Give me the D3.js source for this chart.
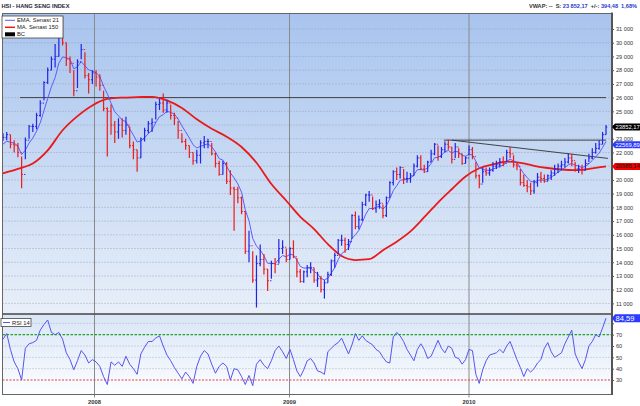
<!DOCTYPE html>
<html><head><meta charset="utf-8">
<script src="https://cdn.jsdelivr.net/npm/d3@7"></script>
<style>body{margin:0;background:#fff}svg{display:block;font-family:"Liberation Sans",Arial,sans-serif}</style>
</head><body><svg id="c" width="640" height="406"></svg>
<script>
// ---------- DATA (weekly bars) ----------
const firstWeek = [2007, 6, 13];   // Friday 13 Jul 2007
const lastWeek  = [2010, 9, 8];    // Friday 8 Oct 2010
const firstOpen = 22900;
const closes = [
23100,23300,22600,22500,22000,20400,22900,23900,23900,24700,25600,27100,28000,28800,29000,31000,30000,28800,28500,26500,28600,29500,27600,27300,27800,
27500,26900,25200,25000,24000,23500,24000,23600,24000,22500,22200,21600,23000,23600,24100,24200,25500,25600,25100,25600,24700,24500,23600,22800,22500,22000,21400,21800,22700,22800,22800,21900,21200,20400,21200,19900,19400,19300,18700,17700,14800,15200,12700,13900,14200,13500,12650,13900,13850,15000,15100,14200,
15000,14400,13300,12600,13300,13600,13600,12700,12800,12000,12500,13100,14100,14500,15600,15600,15300,15500,17400,16600,17100,18200,18900,18900,17900,18200,18300,17400,18700,19800,20600,20400,20900,20100,20100,20300,21000,21600,20800,20600,21300,21900,22600,21700,22200,22600,22400,21500,22400,21900,21200,21600,
22200,21700,20300,19700,20600,20500,20700,21000,21100,21300,21200,22000,21900,21100,21000,19800,19600,19500,19200,19800,20200,20100,19900,20300,20500,20800,21000,21100,21300,21600,21400,20800,20800,20700,21200,21600,22000,22300,22600,23300,23852.17];
const highs = [
23400,23500,23300,22900,22700,21700,23100,24000,24100,24900,25800,27200,28200,29000,29900,31100,31900,30000,29000,28000,28800,29900,29300,27800,28000,
28000,27700,26500,25300,25500,24300,24500,24500,24600,23900,22800,22200,23100,23800,24300,24500,25700,25900,26300,25800,25500,24900,24300,23400,23000,22500,22000,22200,22900,23200,23000,22700,22000,21400,21400,21300,20700,19500,19500,18800,17700,16300,14800,14500,15300,14600,13500,14100,14300,15700,15600,15000,
15100,15600,14300,13500,13400,13800,14000,13600,13300,13000,12700,13300,14200,14700,15700,16000,15800,15700,17500,17700,17400,18400,19000,19200,18800,18500,18600,18200,18800,19900,20700,20900,21000,20800,20600,20500,21200,21800,21800,21100,21400,22200,22700,22500,22400,22800,22950,22400,22700,22300,21900,21700,
22500,22400,21300,20400,20900,20900,20900,21300,21400,21600,21700,22200,22400,21800,21300,20800,20400,20000,19800,20000,20500,20600,20400,20400,20700,21100,21200,21400,21600,21950,21900,21300,21100,21100,21500,21900,22300,22700,22900,23500,24000];
const lows = [
22850,22900,22300,22000,21650,19400,21500,23000,23500,23700,24600,25800,27000,28000,28200,29000,29800,28300,27800,26100,26700,28800,27400,26300,27000,
26800,26500,25000,21700,23300,22700,23000,23100,23300,22300,21500,20600,21600,22800,23400,23500,24400,25100,24900,24900,24400,24000,23000,22700,22200,21600,21100,21200,21200,22300,22300,21800,20900,20300,20400,19700,18900,16300,18300,17500,14600,14000,12500,10700,13700,13100,11900,12800,13200,13900,14600,14000,
14200,14300,12900,12500,12500,12900,13200,12500,12200,11800,11350,12500,13000,13600,14600,15200,14700,14900,15700,16400,16400,17000,18100,18400,17800,17600,17900,17200,17300,18700,19600,20000,20100,19700,19800,19800,20300,20900,20700,20500,20600,21300,21800,21400,21600,22000,22200,21200,21600,21600,21100,21200,
21800,21500,20100,19400,19800,20300,20300,20600,20800,20900,21000,21300,21600,20900,20700,19600,19500,19100,18900,19000,19500,19800,19800,19900,20000,20300,20500,20700,20900,21200,21000,20600,20500,20400,20700,21300,21500,21900,22200,22600,23300];
const rsi = [
66,71,57,46,40,30,58,62,63,65,74,79,83,72,70,72,66,54,48,39,47,56,52,45,48,
46,42,33,26,46,43,46,42,51,44,40,35,53,59,64,64,67,69,60,52,47,41,36,31,37,33,27,42,51,56,53,44,36,42,45,42,30,40,39,33,26,34,25,44,48,43,40,47,56,60,55,49,
57,48,38,33,39,47,49,45,38,37,35,55,58,61,63,67,60,53,61,71,65,69,65,63,61,57,55,50,46,45,68,72,69,64,57,52,47,57,62,57,49,51,58,65,58,54,60,58,50,49,44,48,
57,56,35,27,39,47,52,53,54,57,54,60,64,56,48,41,33,40,37,40,45,48,58,63,55,50,52,54,62,68,74,53,46,40,48,60,64,70,68,76,84.59];
// MA 150 read at every 4th week
const maWeekIndex = [0,4,8,12,16,20,24,28,32,36,40,44,48,52,56,60,64,68,72,76,80,84,88,92,96,100,104,108,112,116,120,124,128,132,136,140,144,148,152,156,160,164,168,169];
const maValues = [20480,20800,21190,22150,23620,24650,25430,25900,26000,26030,26060,25800,25250,24420,23730,23150,22400,21250,19700,18480,17310,16420,15320,14450,14160,14220,14880,15500,16250,17280,18350,19320,20250,20850,21130,21330,21250,21030,20870,20760,20720,20800,20950,20985.14];
const emaSeed = 22400;      // EMA value at the left edge
const emaWeeklyAlpha = 0.3; // weekly equivalent of a 21-day EMA
const lastClose = 23852.17, lastEma = 22569.89, lastMa = 20985.14, lastRsi = 84.59;
const priceTicks = [11000,12000,13000,14000,15000,16000,17000,18000,19000,20000,21000,22000,23000,24000,25000,26000,27000,28000,29000,30000,31000];
const rsiTicks = [30,40,50,60,70,80];
const rsiGrid = [40,50,60,80];
const yearTicks = ["2008-01-01","2009-01-01","2010-01-01"];
const yearLabels = ["2008","2009","2010"];
const trendLines = [
  {from:"2007-08-14", to:"2010-10-08", v1:26000, v2:26000},
  {from:"2009-11-11", to:"2010-10-08", v1:22900, v2:22900},
  {from:"2009-11-27", to:"2010-10-12", v1:22900, v2:21570}
];

// ---------- LAYOUT ----------
const L = 2.5, R = 612, T = 13.5, M = 314, B = 394.5;
const svg = d3.select("#c");
const parse = d3.timeParse("%Y-%m-%d");
const dates = d3.timeFriday.range(new Date(...firstWeek), d3.timeDay.offset(new Date(...lastWeek), 1));

const x = d3.scaleTime()
  .domain([new Date(...firstWeek), parse("2008-01-01"), parse("2009-01-01"), parse("2010-01-01"), new Date(...lastWeek)])
  .range([3, 94.5, 289.5, 469, 606]);
const yP = d3.scaleLinear().domain([11000, 31000]).range([303.4, 29]);
const yR = d3.scaleLinear().domain([30, 70]).range([380, 334.7]);

const defs = svg.append("defs");
function grad(id, c0, c1){
  const g = defs.append("linearGradient").attr("id", id).attr("x1",0).attr("y1",0).attr("x2",0).attr("y2",1);
  g.append("stop").attr("offset","0").attr("stop-color",c0);
  g.append("stop").attr("offset","1").attr("stop-color",c1);
}
grad("gMain", "#a8c4ee", "#e8eff9");
grad("gRsi", "#d9e5f7", "#fdfeff");
defs.append("clipPath").attr("id","clipMain").append("rect").attr("x",L).attr("y",T).attr("width",R-L).attr("height",M-T);
defs.append("clipPath").attr("id","clipRsi").append("rect").attr("x",L).attr("y",M).attr("width",R-L).attr("height",B-M);

svg.append("rect").attr("x",L).attr("y",T).attr("width",R-L).attr("height",M-T).attr("fill","url(#gMain)");
svg.append("rect").attr("x",L).attr("y",M).attr("width",R-L).attr("height",B-M).attr("fill","url(#gRsi)");

// dotted gridlines
svg.append("g").selectAll("line").data(priceTicks).join("line")
  .attr("x1",L).attr("x2",R).attr("y1",d=>yP(d)).attr("y2",d=>yP(d))
  .attr("stroke","#8d9bb3").attr("stroke-width",0.8).attr("stroke-dasharray","1,2");
svg.append("g").selectAll("line").data(rsiGrid).join("line")
  .attr("x1",L).attr("x2",R).attr("y1",d=>yR(d)).attr("y2",d=>yR(d))
  .attr("stroke","#9aa6bb").attr("stroke-width",0.8).attr("stroke-dasharray","1,2");

// year lines
svg.append("g").selectAll("line").data(yearTicks).join("line")
  .attr("x1",d=>x(parse(d))).attr("x2",d=>x(parse(d))).attr("y1",T).attr("y2",B+3)
  .attr("stroke","#8a8a8a").attr("stroke-width",1);
svg.append("g").selectAll("text").data(yearTicks).join("text")
  .attr("x",d=>x(parse(d))).attr("y",404).attr("text-anchor","middle")
  .attr("font-size",5.8).attr("font-weight","bold").attr("fill","#333")
  .text((d,i)=>yearLabels[i]);

// ---------- MAIN PANEL ----------
const main = svg.append("g").attr("clip-path","url(#clipMain)");

main.append("g").selectAll("line").data(trendLines).join("line")
  .attr("x1",d=>x(parse(d.from))).attr("x2",d=>x(parse(d.to)))
  .attr("y1",d=>yP(d.v1)).attr("y2",d=>yP(d.v2))
  .attr("stroke","#333").attr("stroke-width",0.9);

const maPts = maWeekIndex.map((k,i)=>({d:dates[k], v:maValues[i]}));
main.append("path").datum(maPts)
  .attr("d", d3.line().x(p=>x(p.d)).y(p=>yP(p.v)).curve(d3.curveMonotoneX))
  .attr("fill","none").attr("stroke","#e81a1a").attr("stroke-width",1.8);

const ema = [];
closes.forEach((c,i)=>{ const prev = i===0 ? emaSeed : ema[i-1]; ema.push(prev + emaWeeklyAlpha*(c-prev)); });
main.append("path").datum(ema)
  .attr("d", d3.line().x((v,i)=>x(dates[i])).y(v=>yP(v)))
  .attr("fill","none").attr("stroke","#5c5cff").attr("stroke-width",1);

const bars = closes.map((c,i)=>({d:dates[i], o: i===0?firstOpen:closes[i-1], h:highs[i], l:lows[i], c}));
const bg = main.append("g");
bars.forEach(b=>{
  const col = b.c >= b.o ? "#2424e6" : "#ec1c1c";
  const xx = x(b.d);
  bg.append("line").attr("x1",xx).attr("x2",xx).attr("y1",yP(b.h)).attr("y2",yP(b.l)).attr("stroke",col).attr("stroke-width",1.2);
  bg.append("line").attr("x1",xx-1.3).attr("x2",xx).attr("y1",yP(b.o)).attr("y2",yP(b.o)).attr("stroke",col).attr("stroke-width",1);
  bg.append("line").attr("x1",xx).attr("x2",xx+1.3).attr("y1",yP(b.c)).attr("y2",yP(b.c)).attr("stroke",col).attr("stroke-width",1);
});

// ---------- RSI PANEL ----------
const rp = svg.append("g").attr("clip-path","url(#clipRsi)");
rp.append("line").attr("x1",L).attr("x2",R).attr("y1",yR(70)).attr("y2",yR(70))
  .attr("stroke","#1fa51f").attr("stroke-width",1.3).attr("stroke-dasharray","2.5,1.5");
rp.append("line").attr("x1",L).attr("x2",R).attr("y1",yR(30)).attr("y2",yR(30))
  .attr("stroke","#f03a3a").attr("stroke-width",1.1).attr("stroke-dasharray","2,1.5");
rp.append("path").datum(rsi)
  .attr("d", d3.line().x((v,i)=>x(dates[i])).y(v=>yR(v)))
  .attr("fill","none").attr("stroke","#5555ee").attr("stroke-width",1);

svg.append("rect").attr("x",L).attr("y",T).attr("width",R-L).attr("height",B-T).attr("fill","none").attr("stroke","#666").attr("stroke-width",1);
svg.append("line").attr("x1",L).attr("x2",R).attr("y1",M).attr("y2",M).attr("stroke","#444").attr("stroke-width",1.3);

// ---------- AXES ----------
const tagsMain = [lastClose, lastEma, lastMa];
const freePrice = priceTicks.filter(t => tagsMain.every(v => Math.abs(yP(t)-yP(v)) > 5.5));
const freeRsi = rsiTicks.filter(t => Math.abs(yR(t)-yR(lastRsi)) > 6);
const fmt = v => d3.format(",")(v).replace(/,/g, " ");
const ax = svg.append("g").attr("transform",`translate(${R},0)`)
  .call(d3.axisRight(yP).tickValues(priceTicks).tickSize(2).tickPadding(2).tickFormat(fmt));
const ax2 = svg.append("g").attr("transform",`translate(${R},0)`)
  .call(d3.axisRight(yR).tickValues(rsiTicks).tickSize(2).tickPadding(2).tickFormat(d3.format("d")));
[ax, ax2].forEach(a=>{
  a.select(".domain").remove();
  a.selectAll("text").attr("font-size",5.6).attr("fill","#333").attr("font-family","'Liberation Sans',Arial,sans-serif");
  a.selectAll("line").attr("stroke","#555");
});
ax.selectAll(".tick").filter(d => !freePrice.includes(d)).select("text").remove();
ax2.selectAll(".tick").filter(d => !freeRsi.includes(d)).select("text").remove();
svg.append("line").attr("x1",R).attr("x2",R).attr("y1",T-1).attr("y2",B+0.5).attr("stroke","#555").attr("stroke-width",2);

function tag(v, scale, txt, fill, tcol, fs, h){
  const yy = scale(v);
  svg.append("path").attr("d",`M${R},${yy} L${R+3},${yy-h/2} L641,${yy-h/2} L641,${yy+h/2} L${R+3},${yy+h/2} Z`).attr("fill",fill);
  svg.append("text").attr("x",R+3.5).attr("y",yy+fs*0.36).attr("font-size",fs).attr("fill",tcol).text(txt);
}
const num = v => d3.format(".2f")(v).replace(".", ",");
tag(lastClose, yP, num(lastClose), "#000", "#fff", 5.8, 7);
tag(lastEma, yP, num(lastEma), "#2a3cff", "#fff", 5.8, 7);
tag(lastMa, yP, num(lastMa), "#f40000", "#111", 5.8, 7);
tag(lastRsi, yR, num(lastRsi), "#2a3cff", "#fff", 7.6, 8);

// ---------- LEGENDS & TITLES ----------
const lg = svg.append("g");
lg.append("rect").attr("x",2).attr("y",16).attr("width",61).attr("height",22).attr("fill","#fff").attr("stroke","#444").attr("stroke-width",0.8);
lg.append("line").attr("x1",5).attr("x2",15).attr("y1",20.3).attr("y2",20.3).attr("stroke","#5c5cff").attr("stroke-width",1);
lg.append("line").attr("x1",5).attr("x2",15).attr("y1",27.3).attr("y2",27.3).attr("stroke","#e81a1a").attr("stroke-width",1.5);
lg.append("rect").attr("x",5).attr("y",32.3).attr("width",10).attr("height",4).attr("fill","#000");
[["EMA. Senast 21",22.3],["MA. Senast 150",29.3],["BC",36.3]].forEach(([t,yy])=>
  lg.append("text").attr("x",17).attr("y",yy).attr("font-size",5.8).attr("fill","#222").text(t));

const rl = svg.append("g");
rl.append("rect").attr("x",1).attr("y",318.5).attr("width",30).attr("height",8).attr("fill","#fff").attr("stroke","#444").attr("stroke-width",0.8);
rl.append("line").attr("x1",3).attr("x2",10).attr("y1",322.5).attr("y2",322.5).attr("stroke","#5555ee").attr("stroke-width",1);
rl.append("text").attr("x",12).attr("y",324.6).attr("font-size",5.8).attr("fill","#222").text("RSI 14");

svg.append("text").attr("x",1.5).attr("y",8.2).attr("font-size",5.7).attr("font-weight","bold").attr("fill","#1d2433").text("HSI - HANG SENG INDEX");

const hdr = svg.append("text").attr("x",637).attr("y",8.4).attr("text-anchor","end").attr("font-size",5.6).attr("font-weight","bold");
[["VWAP: --  ","#333"],["S: ","#333"],["23 852,17","#2a3ccc"],["  +/-: ","#333"],["394,48","#2a3ccc"],["  1,68%","#2a3ccc"]]
  .forEach(([t,c])=>hdr.append("tspan").attr("fill",c).attr("xml:space","preserve").text(t));
</script></body></html>
